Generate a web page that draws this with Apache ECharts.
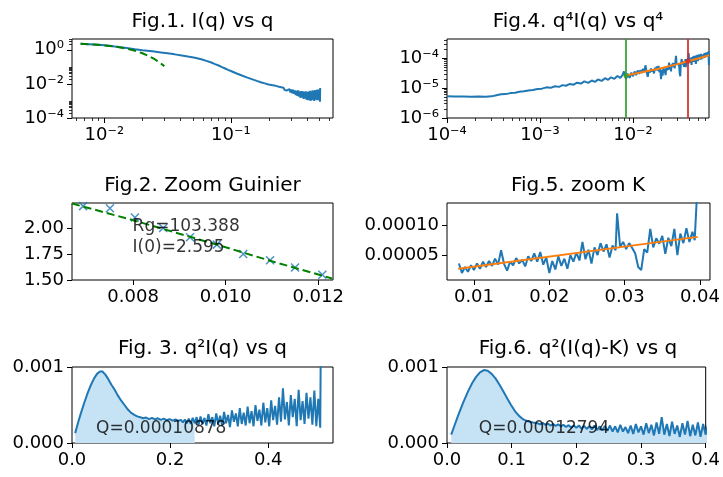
<!DOCTYPE html>
<html><head><meta charset="utf-8">
<script src="https://cdn.jsdelivr.net/npm/echarts@6/dist/echarts.min.js"></script>
<style>html,body{margin:0;padding:0;background:#fff}#c{width:723px;height:477px}</style>
</head><body><div id="c"></div>
<script>
// ---------- Fig.1  I(q) vs q ----------
const fig1Q = [0.0065,0.0075,0.0085,0.0095,0.011,0.0121,0.0135,0.015,0.0175,0.020,0.024,0.028,0.0316,0.036,0.041,0.0457,0.052,0.0583,0.064,0.070,0.075,0.080,0.085,0.090,0.095,0.101,0.110,0.122,0.135,0.148,0.160,0.172,0.185,0.198,
0.210,0.215,0.220,0.225,0.230,0.235,0.240,0.245,0.250,0.255,0.260,0.265,0.270,0.275,0.280,0.285,0.290,0.295,0.300,0.305,0.310,0.315,0.320,0.325,0.330,0.335,0.340,0.345,0.350,0.355,0.360,0.365,0.370,0.375,0.380,0.385,0.390,0.395,0.400,0.405,0.410,0.415,0.420,0.425,0.430,0.435,0.440,0.445,0.450,0.455,0.460,0.465,0.470,0.475,0.480,0.485,0.490,0.495,0.500,0.505,0.507];
const fig1I = [2.24,2.15,2.02,1.9,1.72,1.56,1.40,1.26,1.08,0.95,0.82,0.70,0.62,0.54,0.46,0.40,0.34,0.28,0.225,0.18,0.145,0.12,0.097,0.08,0.066,0.055,0.042,0.031,0.0235,0.0185,0.0150,0.0125,0.0107,0.0092,
0.0085,0.0072,0.0080,0.0066,0.0074,0.0060,0.0068,0.0055,0.0064,0.0049,0.0060,0.0045,0.0056,0.0040,0.0052,0.0036,0.0050,0.0031,0.0047,0.0028,0.0045,0.0026,0.0042,0.0022,0.0040,0.0020,0.0041,0.0018,0.0037,0.0015,0.0038,0.0016,0.0036,0.0013,0.0035,0.0014,0.0037,0.0012,0.0034,0.0011,0.0036,0.0012,0.0039,0.0010,0.0035,0.0011,0.0042,0.0012,0.0038,0.0010,0.0044,0.0013,0.0040,0.0011,0.0046,0.0012,0.0043,0.0011,0.0048,0.0009,0.0058];
const fig1FitQ = [0.0065,0.008,0.010,0.0125,0.015,0.0175,0.020,0.0225,0.025,0.0275,0.0298];
const fig1FitI = [2.23,2.07,1.82,1.49,1.17,0.87,0.63,0.43,0.28,0.175,0.11];
const fig1XTicks = [0.01,0.1];
const fig1YTicks = [1e-4,1e-2,1];
const fig1XMinor = [0.006,0.007,0.008,0.009,0.02,0.03,0.04,0.05,0.06,0.07,0.08,0.09,0.2,0.3,0.4,0.5,0.6];
const fig1YMinor = [2e-4,3e-4,4e-4,5e-4,6e-4,7e-4,8e-4,9e-4,2e-2,3e-2,4e-2,5e-2,6e-2,7e-2,8e-2,9e-2,2,3,4];

// ---------- Fig.2  Zoom Guinier ----------
const fig2Q = [0.00692,0.00750,0.00804,0.00865,0.00923,0.00981,0.01038,0.01096,0.01150,0.01209];
const fig2I = [2.21,2.19,2.10,2.00,1.91,1.84,1.75,1.69,1.62,1.55];
const fig2FitQ = [0.00668,0.0080,0.0090,0.0100,0.0110,0.0123];
const fig2FitI = [2.235,2.075,1.945,1.815,1.68,1.515];
const fig2XTicks = [0.008,0.010,0.012];
const fig2YTicks = [1.5,1.75,2.0];
const fig2Text = 'Rg=103.388\nI(0)=2.595';

// ---------- Fig.3  q^2 I(q) vs q ----------
const fig3Q = [0.0065,0.012,0.018,0.025,0.032,0.039,0.045,0.051,0.057,0.062,0.068,0.074,0.080,0.087,0.093,0.100,0.107,0.114,0.120,0.127,
0.133,0.139,0.145,0.151,0.157,0.163,0.169,0.175,0.181,0.187,0.193,0.199,0.205,0.211,0.217,0.222,
0.226,0.230,0.234,0.238,0.242,0.246,0.250,0.254,0.258,0.262,0.266,0.270,0.274,0.278,0.282,0.286,0.290,0.294,0.298,0.302,
0.306,0.310,0.314,0.318,0.322,0.326,0.330,0.334,0.338,0.342,0.346,0.350,0.354,0.358,0.362,0.366,0.370,0.374,0.378,0.382,
0.386,0.390,0.394,0.398,0.402,0.406,0.410,0.414,0.418,0.422,0.426,0.430,0.434,0.438,0.442,0.446,0.450,0.454,0.458,0.462,
0.466,0.470,0.474,0.478,0.482,0.486,0.490,0.494,0.498,0.502,0.506,0.507];
const fig3V = [1.3e-4,2.6e-4,3.9e-4,5.3e-4,6.6e-4,7.7e-4,8.5e-4,9.1e-4,9.4e-4,9.4e-4,9.0e-4,8.4e-4,7.7e-4,7.0e-4,6.3e-4,5.6e-4,5.0e-4,4.4e-4,4.0e-4,3.7e-4,
3.5e-4,3.4e-4,3.25e-4,3.35e-4,3.15e-4,3.3e-4,3.1e-4,3.25e-4,3.05e-4,3.2e-4,3.0e-4,3.15e-4,2.95e-4,3.1e-4,2.9e-4,3.05e-4,
2.7e-4,3.1e-4,2.6e-4,3.2e-4,2.5e-4,3.3e-4,2.6e-4,3.4e-4,2.4e-4,3.5e-4,2.5e-4,3.3e-4,2.3e-4,3.8e-4,2.6e-4,3.4e-4,2.2e-4,3.9e-4,2.5e-4,3.6e-4,
2.3e-4,4.1e-4,2.6e-4,3.7e-4,2.1e-4,4.3e-4,2.8e-4,3.9e-4,2.2e-4,4.6e-4,2.5e-4,4.0e-4,2.3e-4,4.8e-4,2.6e-4,4.2e-4,2.2e-4,5.0e-4,2.9e-4,4.4e-4,
2.3e-4,5.3e-4,2.7e-4,4.6e-4,2.2e-4,5.6e-4,3.0e-4,4.9e-4,2.4e-4,6.0e-4,2.8e-4,7.2e-4,3.1e-4,5.4e-4,2.3e-4,6.3e-4,3.4e-4,5.8e-4,2.2e-4,7.0e-4,
3.0e-4,5.5e-4,2.5e-4,6.6e-4,3.2e-4,6.0e-4,2.4e-4,6.9e-4,2.2e-4,5.8e-4,2.0e-4,1.2e-3];
const fig3FillMax = 0.252;
const fig3XTicks = [0,0.2,0.4];
const fig3YTicks = [0,0.001];
const fig3Text = 'Q=0.00010878';

// ---------- Fig.4  q^4 I(q) vs q^4 ----------
const fig4LowX = [1.0e-4,1.2e-4,1.5e-4,1.8e-4,2.2e-4,2.6e-4,3.0e-4,3.4e-4,3.8e-4,4.3e-4,4.8e-4,5.4e-4,6.0e-4,6.7e-4,7.5e-4,8.4e-4,9.4e-4,1.05e-3,1.17e-3,1.3e-3,
1.45e-3,1.6e-3,1.75e-3,1.9e-3,2.1e-3,2.3e-3,2.5e-3,2.75e-3,3.0e-3,3.3e-3,3.6e-3,3.9e-3,4.2e-3,4.6e-3,5.0e-3,5.4e-3,5.8e-3,6.3e-3,6.8e-3,7.3e-3,7.7e-3];
const fig4LowY = [5.3e-6,5.2e-6,5.2e-6,5.1e-6,5.2e-6,5.1e-6,5.3e-6,5.8e-6,6.2e-6,6.3e-6,6.8e-6,7.0e-6,7.5e-6,7.8e-6,8.3e-6,8.6e-6,9.3e-6,9.6e-6,1.06e-5,1.02e-5,
1.15e-5,1.1e-5,1.26e-5,1.2e-5,1.38e-5,1.3e-5,1.52e-5,1.42e-5,1.68e-5,1.5e-5,1.8e-5,1.62e-5,1.95e-5,1.75e-5,2.15e-5,1.9e-5,2.3e-5,2.05e-5,2.55e-5,2.2e-5,2.7e-5];
const fig4HighX = [0.0402,0.0408,0.0414,0.0420,0.0426,0.0432,0.0438,0.0444,0.0450,0.0456,0.0462,0.0468,0.0474,0.0480,0.0486,0.0492,0.0498,0.0504,0.0510,0.0516,0.0522,0.0528,
0.0534,0.0540,0.0546,0.0552,0.0558,0.0564,0.0570,0.0576,0.0582,0.0588,0.0594,0.0600,0.0606,0.0612,0.0618,0.0624,0.0630,0.0636,0.0642,0.0648,0.0654,0.0658];
const fig4HighY = [8.0e-5,1.05e-4,7.2e-5,9.8e-5,6.0e-5,1.1e-4,8.5e-5,1.15e-4,7.5e-5,1.2e-4,9.0e-5,1.05e-4,6.5e-5,1.25e-4,9.5e-5,1.3e-4,8.0e-5,1.2e-4,1.0e-4,1.35e-4,9.0e-5,1.28e-4,
1.05e-4,1.4e-4,9.2e-5,1.3e-4,1.12e-4,1.45e-4,1.0e-4,1.38e-4,1.15e-4,1.5e-4,1.05e-4,1.42e-4,1.2e-4,1.55e-4,1.1e-4,1.48e-4,1.25e-4,1.6e-4,1.15e-4,1.7e-4,6.0e-5,1.5e-4];
const fig4FitX = [0.0084,0.02,0.03,0.039,0.05,0.066];
const fig4FitY = [2.65e-5,4.64e-5,6.36e-5,7.90e-5,9.79e-5,1.253e-4];
const kLimits = [0.0084,0.039];
const kMarkY = [2.65e-5,7.9e-5];
const fig4XTicks = [1e-4,1e-3,1e-2];
const fig4YTicks = [1e-6,1e-5,1e-4];
const fig4XMinor = [2e-4,3e-4,4e-4,5e-4,6e-4,7e-4,8e-4,9e-4,2e-3,3e-3,4e-3,5e-3,6e-3,7e-3,8e-3,9e-3,2e-2,3e-2,4e-2,5e-2,6e-2];
const fig4YMinor = [2e-6,3e-6,4e-6,5e-6,6e-6,7e-6,8e-6,9e-6,2e-5,3e-5,4e-5,5e-5,6e-5,7e-5,8e-5,9e-5,2e-4,3e-4,4e-4];

// ---------- Fig.5  zoom K ----------
const kX = [0.0080,0.0084,0.0088,0.0092,0.0096,0.0100,0.0104,0.0108,0.0112,0.0116,
0.0120,0.0124,0.0128,0.0132,0.0136,0.0140,0.0144,0.0148,0.0152,0.0156,
0.0160,0.0164,0.0168,0.0172,0.0176,0.0180,0.0184,0.0188,0.0192,0.0196,
0.0200,0.0204,0.0208,0.0212,0.0216,0.0220,0.0224,0.0228,0.0232,0.0236,
0.0240,0.0244,0.0248,0.0252,0.0256,0.0260,0.0264,0.0268,0.0272,0.0276,
0.0280,0.0284,0.0288,0.0290,0.0294,0.0298,0.0302,0.0306,0.0310,0.0314,
0.0318,0.0322,0.0326,0.0330,0.0334,0.0338,0.0342,0.0346,0.0350,0.0354,
0.0358,0.0362,0.0366,0.0370,0.0374,0.0378,0.0382,0.0386,0.0390,0.0393,0.0396];
const kY = [3.6e-5,2.0e-5,3.0e-5,2.2e-5,3.3e-5,2.5e-5,3.6e-5,2.7e-5,3.9e-5,3.0e-5,
4.0e-5,3.2e-5,4.4e-5,3.4e-5,5.8e-5,3.5e-5,2.4e-5,3.9e-5,3.3e-5,4.5e-5,
3.6e-5,4.2e-5,3.1e-5,4.8e-5,4.0e-5,5.3e-5,3.9e-5,5.5e-5,3.4e-5,4.6e-5,
2.0e-5,4.0e-5,2.6e-5,4.8e-5,3.2e-5,4.4e-5,2.7e-5,5.0e-5,3.9e-5,5.4e-5,
4.1e-5,7.2e-5,4.3e-5,5.9e-5,3.6e-5,6.3e-5,5.0e-5,7.0e-5,5.6e-5,6.8e-5,
4.6e-5,6.6e-5,5.8e-5,1.2e-4,6.4e-5,7.2e-5,6.0e-5,7.0e-5,6.2e-5,5.3e-5,
3.0e-5,2.5e-5,6.0e-5,5.4e-5,9.4e-5,6.3e-5,7.8e-5,6.9e-5,8.2e-5,5.2e-5,
7.9e-5,6.5e-5,9.4e-5,5.0e-5,8.6e-5,7.0e-5,9.5e-5,7.2e-5,8.9e-5,7.5e-5,1.5e-4];
const fig5FitX = [0.0079,0.0397];
const fig5FitY = [2.7e-5,8.05e-5];
const fig5XTicks = [0.01,0.02,0.03,0.04];
const fig5YTicks = [5e-5,1e-4];

// ---------- Fig.6  q^2 (I(q)-K) vs q ----------
const fig6Q = [0.0065,0.012,0.018,0.025,0.032,0.039,0.045,0.051,0.057,0.063,0.069,0.075,0.081,0.087,0.093,0.099,0.105,0.111,0.118,0.125,0.133,
0.140,0.144,0.148,0.152,0.156,0.160,0.164,0.168,0.172,0.176,0.180,0.184,0.188,0.192,0.196,0.200,0.204,0.208,0.212,0.216,
0.220,0.224,0.228,0.232,0.236,0.240,0.244,0.248,0.252,0.256,0.260,0.264,0.268,0.272,0.276,0.280,0.284,0.288,0.292,0.296,
0.300,0.304,0.308,0.312,0.316,0.320,0.324,0.328,0.332,0.336,0.340,0.344,0.348,0.352,0.356,0.360,0.364,0.368,0.372,0.376,
0.380,0.384,0.388,0.392,0.396,0.400,0.404,0.408];
const fig6V = [1.1e-4,2.4e-4,3.8e-4,5.3e-4,6.7e-4,7.9e-4,8.7e-4,9.3e-4,9.6e-4,9.5e-4,9.1e-4,8.5e-4,7.7e-4,6.8e-4,5.9e-4,5.0e-4,4.2e-4,3.6e-4,3.1e-4,2.85e-4,2.7e-4,
2.6e-4,2.45e-4,2.65e-4,2.4e-4,2.55e-4,2.3e-4,2.5e-4,2.25e-4,2.45e-4,2.2e-4,2.4e-4,2.1e-4,2.35e-4,2.05e-4,2.3e-4,2.0e-4,2.3e-4,1.9e-4,2.25e-4,1.85e-4,
2.2e-4,1.8e-4,2.3e-4,1.7e-4,2.2e-4,1.65e-4,2.25e-4,1.6e-4,2.3e-4,1.5e-4,2.2e-4,1.4e-4,2.4e-4,1.5e-4,2.1e-4,1.3e-4,2.3e-4,1.2e-4,2.5e-4,1.4e-4,
2.2e-4,1.1e-4,2.6e-4,1.3e-4,2.4e-4,1.0e-4,2.7e-4,1.2e-4,3.4e-4,1.1e-4,2.5e-4,0.9e-4,2.8e-4,1.2e-4,2.3e-4,0.8e-4,2.6e-4,1.1e-4,2.9e-4,0.9e-4,
2.4e-4,1.0e-4,2.7e-4,0.8e-4,2.5e-4,1.1e-4,2.6e-4,0.9e-4];
const fig6XTicks = [0,0.1,0.2,0.3,0.4];
const fig6YTicks = [0,0.001];
const fig6Text = 'Q=0.00012794';

// ---------- helpers ----------
const C0='#1f77b4', C1='#ff7f0e', C2='#2ca02c', C3='#d62728', FITG='#008000', FILL='#c6e3f6';
const FAM = 'DejaVu Sans';
const zip = (xs, ys) => xs.map((x, i) => [x, ys[i]]);
const SUP = {'-':'\u207B','0':'\u2070','1':'\u00B9','2':'\u00B2','3':'\u00B3','4':'\u2074','5':'\u2075','6':'\u2076','7':'\u2077','8':'\u2078','9':'\u2079'};
const pow10 = v => '10' + String(Math.round(Math.log10(v))).split('').map(c => SUP[c]).join('');
const fix = n => v => Number(v).toFixed(n);

// axis limits
const fig1XLim = [0.00556, 0.64], fig1YLim = [1e-4, 4.3];
const fig4XLim = [1e-4, 0.0656], fig4YLim = [1e-6, 4.4e-4];

function mainAxis(gridIndex, type, lim, ticks, fmt, position) {
  const a = {
    type, gridIndex, min: lim[0], max: lim[1], position,
    axisLine: {show: false, onZero: false},
    splitLine: {show: false},
    axisTick: {show: true, inside: false, length: 5, customValues: ticks, lineStyle: {color: '#000', width: 1}},
    axisLabel: {show: true, customValues: ticks, formatter: v => fmt(v), margin: 8, color: '#000',
                fontFamily: FAM, fontSize: 18, hideOverlap: false}
  };
  if (type === 'log') a.logBase = 10;
  return a;
}
function minorAxis(gridIndex, lim, ticks, position) {
  return {
    type: 'log', logBase: 10, gridIndex, min: lim[0], max: lim[1], position,
    axisLine: {show: false, onZero: false},
    splitLine: {show: false},
    axisLabel: {show: false},
    axisTick: {show: true, inside: false, length: 3, customValues: ticks, lineStyle: {color: '#000', width: 0.8}}
  };
}
function line(xi, data, color, width, extra) {
  return Object.assign({type: 'line', xAxisIndex: xi, yAxisIndex: xi, data, showSymbol: false, symbol: 'none',
    lineStyle: {color, width}, itemStyle: {color}, z: 2, animation: false}, extra || {});
}
function note(xi, pt, text) {
  return {type: 'scatter', xAxisIndex: xi, yAxisIndex: xi, data: [pt], symbolSize: 1, silent: true, z: 10,
    itemStyle: {color: 'rgba(0,0,0,0)'},
    label: {show: true, formatter: text, position: [0, 0], align: 'left', verticalAlign: 'middle',
            color: '#000', fontFamily: FAM, fontSize: 17, lineHeight: 21}};
}
function title(x, y, text) {
  return {type: 'text', x, y, silent: true,
    style: {text, fill: '#000', font: '20px "DejaVu Sans"', align: 'center', verticalAlign: 'middle',
            textAlign: 'center', textVerticalAlign: 'middle'}};
}

const grids = [
  {left: 72, top: 39, width: 261, height: 79},
  {left: 447, top: 39, width: 262, height: 79},
  {left: 72, top: 203, width: 261, height: 77},
  {left: 447, top: 203, width: 263, height: 77},
  {left: 72, top: 367, width: 261, height: 76},
  {left: 447, top: 367, width: 263, height: 76}
].map(g => Object.assign(g, {show: true, borderColor: '#000', borderWidth: 1, backgroundColor: 'rgba(0,0,0,0)', containLabel: false}));

const xAxes = [
  mainAxis(0, 'log', fig1XLim, fig1XTicks, pow10, 'bottom'),
  mainAxis(1, 'log', fig4XLim, fig4XTicks, pow10, 'bottom'),
  mainAxis(2, 'value', [0.00668, 0.01232], fig2XTicks, fix(3), 'bottom'),
  mainAxis(3, 'value', [0.00642, 0.04133], fig5XTicks, fix(2), 'bottom'),
  mainAxis(4, 'value', [0, 0.532], fig3XTicks, fix(1), 'bottom'),
  mainAxis(5, 'value', [0, 0.4], fig6XTicks, fix(1), 'bottom'),
  minorAxis(0, fig1XLim, fig1XMinor, 'bottom'),
  minorAxis(1, fig4XLim, fig4XMinor, 'bottom')
];
const yAxes = [
  mainAxis(0, 'log', fig1YLim, fig1YTicks, pow10, 'left'),
  mainAxis(1, 'log', fig4YLim, fig4YTicks, pow10, 'left'),
  mainAxis(2, 'value', [1.5, 2.24], fig2YTicks, fix(2), 'left'),
  mainAxis(3, 'value', [8.3e-6, 1.372e-4], fig5YTicks, fix(5), 'left'),
  mainAxis(4, 'value', [0, 0.001], fig3YTicks, fix(3), 'left'),
  mainAxis(5, 'value', [0, 0.001], fig6YTicks, fix(3), 'left'),
  minorAxis(0, fig1YLim, fig1YMinor, 'left'),
  minorAxis(1, fig4YLim, fig4YMinor, 'left')
];

const fig4All = zip(fig4LowX.concat(kX, fig4HighX), fig4LowY.concat(kY, fig4HighY));
const fig3All = zip(fig3Q, fig3V);
// vertical limit lines span the full y range of Fig.4
const vLine = x => [[x, fig4YLim[0]], [x, fig4YLim[1]]];

const series = [
  // Fig.1
  line(0, zip(fig1Q, fig1I), C0, 2),
  line(0, zip(fig1FitQ, fig1FitI), FITG, 2, {lineStyle: {color: FITG, width: 2, type: [8, 4]}, z: 3}),
  // Fig.4
  line(1, fig4All, C0, 2),
  line(1, vLine(kLimits[0]), C2, 2, {z: 3, lineStyle: {color: C2, width: 2, opacity: 0.85}}),
  line(1, vLine(kLimits[1]), C3, 2, {z: 3, lineStyle: {color: C3, width: 2, opacity: 0.85}}),
  line(1, zip(fig4FitX, fig4FitY), C1, 2, {z: 4}),
  {type: 'scatter', xAxisIndex: 1, yAxisIndex: 1, data: zip(kLimits, kMarkY), symbolSize: 5, z: 5, silent: true,
   itemStyle: {color: p => [C2, C3][p.dataIndex]}},
  // Fig.2
  {type: 'scatter', xAxisIndex: 2, yAxisIndex: 2, data: zip(fig2Q, fig2I), symbol: 'path://M0,0L10,10M10,0L0,10',
   symbolSize: 8, z: 2, silent: true, itemStyle: {color: 'rgba(0,0,0,0)', borderColor: C0, borderWidth: 1.5}},
  line(2, zip(fig2FitQ, fig2FitI), FITG, 2, {lineStyle: {color: FITG, width: 2, type: [8, 4]}, z: 3}),
  note(2, [0.008, 1.909], fig2Text),
  // Fig.5
  line(3, zip(kX, kY), C0, 2),
  line(3, zip(fig5FitX, fig5FitY), C1, 2, {z: 3}),
  // Fig.3
  line(4, fig3All.filter(p => p[0] <= fig3FillMax), FILL, 0, {lineStyle: {width: 0, opacity: 0}, areaStyle: {color: FILL, opacity: 1}, z: 1}),
  line(4, fig3All, C0, 2),
  note(4, [0.05, 1.8e-4], fig3Text),
  // Fig.6
  line(5, zip(fig6Q, fig6V), C0, 2, {areaStyle: {color: FILL, opacity: 1}}),
  note(5, [0.05, 1.8e-4], fig6Text)
];

const chart = echarts.init(document.getElementById('c'), null, {renderer: 'canvas'});
chart.setOption({
  animation: false,
  backgroundColor: '#fff',
  textStyle: {fontFamily: FAM},
  grid: grids,
  xAxis: xAxes,
  yAxis: yAxes,
  series,
  graphic: [
    title(202.5, 22, 'Fig.1. I(q) vs q'),
    title(578, 22, 'Fig.4. q\u2074I(q) vs q\u2074'),
    title(202.5, 186, 'Fig.2. Zoom Guinier'),
    title(578, 186, 'Fig.5. zoom K'),
    title(202.5, 349, 'Fig. 3. q\u00B2I(q) vs q'),
    title(578, 349, 'Fig.6. q\u00B2(I(q)-K) vs q')
  ]
});
</script></body></html>
